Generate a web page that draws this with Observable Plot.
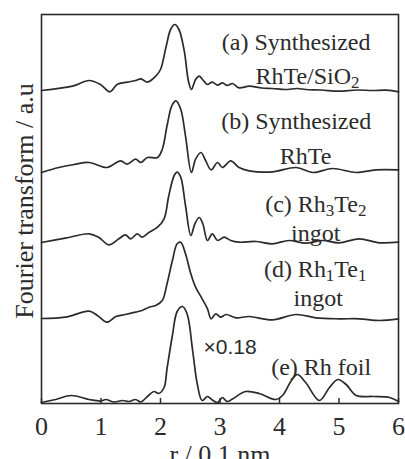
<!DOCTYPE html>
<html>
<head>
<meta charset="utf-8">
<script src="https://cdn.jsdelivr.net/npm/d3@7"></script>
<script src="https://cdn.jsdelivr.net/npm/@observablehq/plot@0.6"></script>
<style>
  html, body { margin: 0; padding: 0; background: #ffffff; }
  #chart { width: 405px; height: 459px; overflow: hidden; }
</style>
</head>
<body>
<div id="chart"></div>
<script>
// ---- data ----
const xTicks = [0, 1, 2, 3, 4, 5, 6];

// (a) Synthesized RhTe/SiO2
const rA = [0, 0.52, 0.80, 0.99, 1.15, 1.27, 1.44, 1.58, 1.67, 1.78, 1.92, 2.00, 2.09, 2.17, 2.24, 2.31, 2.40, 2.47, 2.52, 2.59, 2.65, 2.73, 2.79, 2.87, 2.96, 3.04, 3.12, 3.21, 3.32, 3.49, 3.70, 3.88, 4.10, 4.30, 4.44, 4.70, 5.00, 5.30, 5.56, 5.80, 6.00];
const ftA = [0, 4.3, 10, 6, -1.3, 6, 8.3, 10, 11.7, 8.3, 14.3, 21, 42.7, 61, 66, 61, 39.3, 9.3, 1, 11, 14.3, 9.3, 6, 8.3, 5.3, 7.7, 5, 7, 2.7, 4.3, 2.5, 2, 1, 2, 1, 0.5, -0.7, 0.5, 0, 0.3, -1.3];

// (b) Synthesized RhTe
const rB = [0, 0.29, 0.55, 0.80, 1.10, 1.33, 1.44, 1.58, 1.67, 1.78, 1.95, 2.03, 2.11, 2.19, 2.26, 2.34, 2.42, 2.52, 2.59, 2.68, 2.76, 2.85, 2.96, 3.04, 3.18, 3.32, 3.49, 3.88, 4.28, 4.56, 4.89, 5.29, 5.62, 6.00];
const ftB = [-1, 4, 7, 9, 4, 10.7, 7.3, 12.3, 9, 14, 14, 22.3, 45.7, 65.7, 70.7, 62.3, 35.7, -1, 12.3, 19, 10.7, 1.7, 9, 4, 10.7, 4, 0.7, -0.3, 4, -1, 3, -1, 1.7, 1.7];

// (c) Rh3Te2 ingot
const rC = [0, 0.40, 0.80, 0.96, 1.13, 1.30, 1.41, 1.50, 1.61, 1.69, 1.81, 1.95, 2.06, 2.14, 2.23, 2.28, 2.34, 2.42, 2.51, 2.58, 2.65, 2.71, 2.79, 2.87, 2.96, 3.07, 3.18, 3.32, 3.60, 3.88, 4.16, 4.44, 4.72, 5.00, 5.34, 5.68, 6.00];
const ftC = [0, 4.3, 8.7, 5.3, -2.3, 3.7, 7.7, 3.7, 8.7, 5.3, 10.3, 15.3, 23.7, 47, 67, 70.3, 65.3, 37, 7, 19, 25, 19, 2, 8.7, 2, 5.3, 2, 0.3, 1, -1.3, 2, -0.7, 2, -0.3, 3.7, -0.3, 0.3];

// (d) Rh1Te1 ingot
const rD = [0, 0.40, 0.80, 0.94, 1.10, 1.25, 1.41, 1.58, 1.69, 1.81, 1.92, 2.03, 2.11, 2.20, 2.28, 2.34, 2.42, 2.51, 2.59, 2.70, 2.79, 2.85, 2.93, 3.01, 3.10, 3.27, 3.49, 3.88, 4.28, 4.61, 5.00, 5.34, 5.68, 6.00];
const ftD = [0, 1.3, 7.3, 3, -3.7, 2, 4, 6.3, 8, 11.3, 13, 18, 34.7, 58, 74.7, 76.3, 64.7, 44.7, 31.3, 19.7, 9.7, -0.3, 4.7, 1.3, 4, 0.7, 2, -1.3, 4, 0.7, -0.3, -0.3, -2, -0.3];

// (e) Rh foil (x0.18)
const rE = [0, 0.24, 0.50, 0.80, 1.00, 1.08, 1.22, 1.36, 1.47, 1.58, 1.67, 1.78, 1.89, 1.97, 2.06, 2.11, 2.20, 2.28, 2.37, 2.45, 2.54, 2.62, 2.70, 2.79, 2.87, 2.96, 3.04, 3.12, 3.21, 3.43, 3.66, 3.94, 4.05, 4.19, 4.30, 4.44, 4.67, 4.84, 4.98, 5.12, 5.29, 5.57, 5.85, 6.00];
const ftE = [0, 3, 7, 3, 1.5, 3, 0.5, 2, 1, 3, 0.5, 6, 11, 9, 15, 34, 67, 91, 96, 88, 52, 18, 2, 6, 2.5, 0, 5, 1, 3.5, 11, 9, 3, 7, 21, 28, 20, 2, 15, 23, 18, 7, 6, 5, 1];

const seriesNames = ["a", "b", "c", "d", "e"];
const seriesR = [rA, rB, rC, rD, rE];
const seriesFT = [ftA, ftB, ftC, ftD, ftE];
const offsets = [313, 232, 161, 85, 1];

// annotations
const labelText = ["(a) Synthesized", "RhTe/SiO_2", "(b) Synthesized", "RhTe", "(c) Rh_3Te_2", "ingot", "(d) Rh_1Te_1", "ingot", "(e) Rh foil"];
const labelR = [4.28, 4.47, 4.28, 4.44, 4.61, 4.61, 4.60, 4.65, 4.70];
const labelV = [354, 320, 275, 240, 192, 163, 127, 98, 29];
const scaleText = "×0.18";
const scaleR = 3.17, scaleV = 50;

// ---- build table ----
const rows = [];
seriesNames.forEach((s, i) => {
  seriesR[i].forEach((r, j) => rows.push({series: s, r, v: seriesFT[i][j] + offsets[i]}));
});
const labels = labelText.map((t, i) => ({t, r: labelR[i], v: labelV[i]}));

const ink = "#2b2b2b";
const serif = "'Liberation Serif', 'Times New Roman', serif";

const plot = Plot.plot({
  width: 405,
  height: 459,
  marginLeft: 41,
  marginRight: 7,
  marginTop: 14,
  marginBottom: 56,
  style: {fontFamily: serif, fontSize: "26px", color: ink, background: "#ffffff"},
  x: {domain: [0, 6]},
  y: {domain: [0, 389], axis: null},
  marks: [
    Plot.line(rows, {x: "r", y: "v", z: "series", stroke: ink, strokeWidth: 1.7, curve: "catmull-rom"}),
    Plot.ruleX(xTicks, {y1: 0, y2: 5, stroke: ink, strokeWidth: 1.5}),
    Plot.frame({stroke: ink, strokeWidth: 1.6}),
    Plot.axisX({ticks: xTicks, tickSize: 0, tickPadding: 13, tickFormat: d => String(d), label: null, fontSize: 26}),
    Plot.text(["r / 0.1 nm"], {frameAnchor: "bottom", lineAnchor: "bottom", dy: 59, fontSize: 26, fill: ink}),
    Plot.text(["Fourier transform / a.u"], {frameAnchor: "left", textAnchor: "middle", lineAnchor: "middle", rotate: -90, dx: -17, dy: -8, fontSize: 26, fill: ink}),
    Plot.text(labels, {x: "r", y: "v", text: "t", textAnchor: "middle", lineAnchor: "bottom", fontSize: 24, fill: ink}),
    Plot.text([scaleText], {x: () => scaleR, y: () => scaleV, textAnchor: "middle", lineAnchor: "bottom", fontSize: 21, fontFamily: "'Liberation Sans', Arial, sans-serif", fill: ink})
  ]
});

// subscripts: "X_n" -> tspan
const NS = "http://www.w3.org/2000/svg";
plot.querySelectorAll("text").forEach(t => {
  const s = t.textContent;
  if (!s.includes("_")) return;
  t.textContent = "";
  const parts = s.split(/_(\d)/);
  let shifted = false;
  parts.forEach((p, i) => {
    if (!p) return;
    const ts = document.createElementNS(NS, "tspan");
    ts.textContent = p;
    if (i % 2 === 1) {
      ts.setAttribute("font-size", "17");
      ts.setAttribute("dy", "4");
      shifted = true;
    } else if (shifted) {
      ts.setAttribute("dy", "-4");
      shifted = false;
    }
    t.appendChild(ts);
  });
});

document.getElementById("chart").appendChild(plot);
</script>
</body>
</html>
